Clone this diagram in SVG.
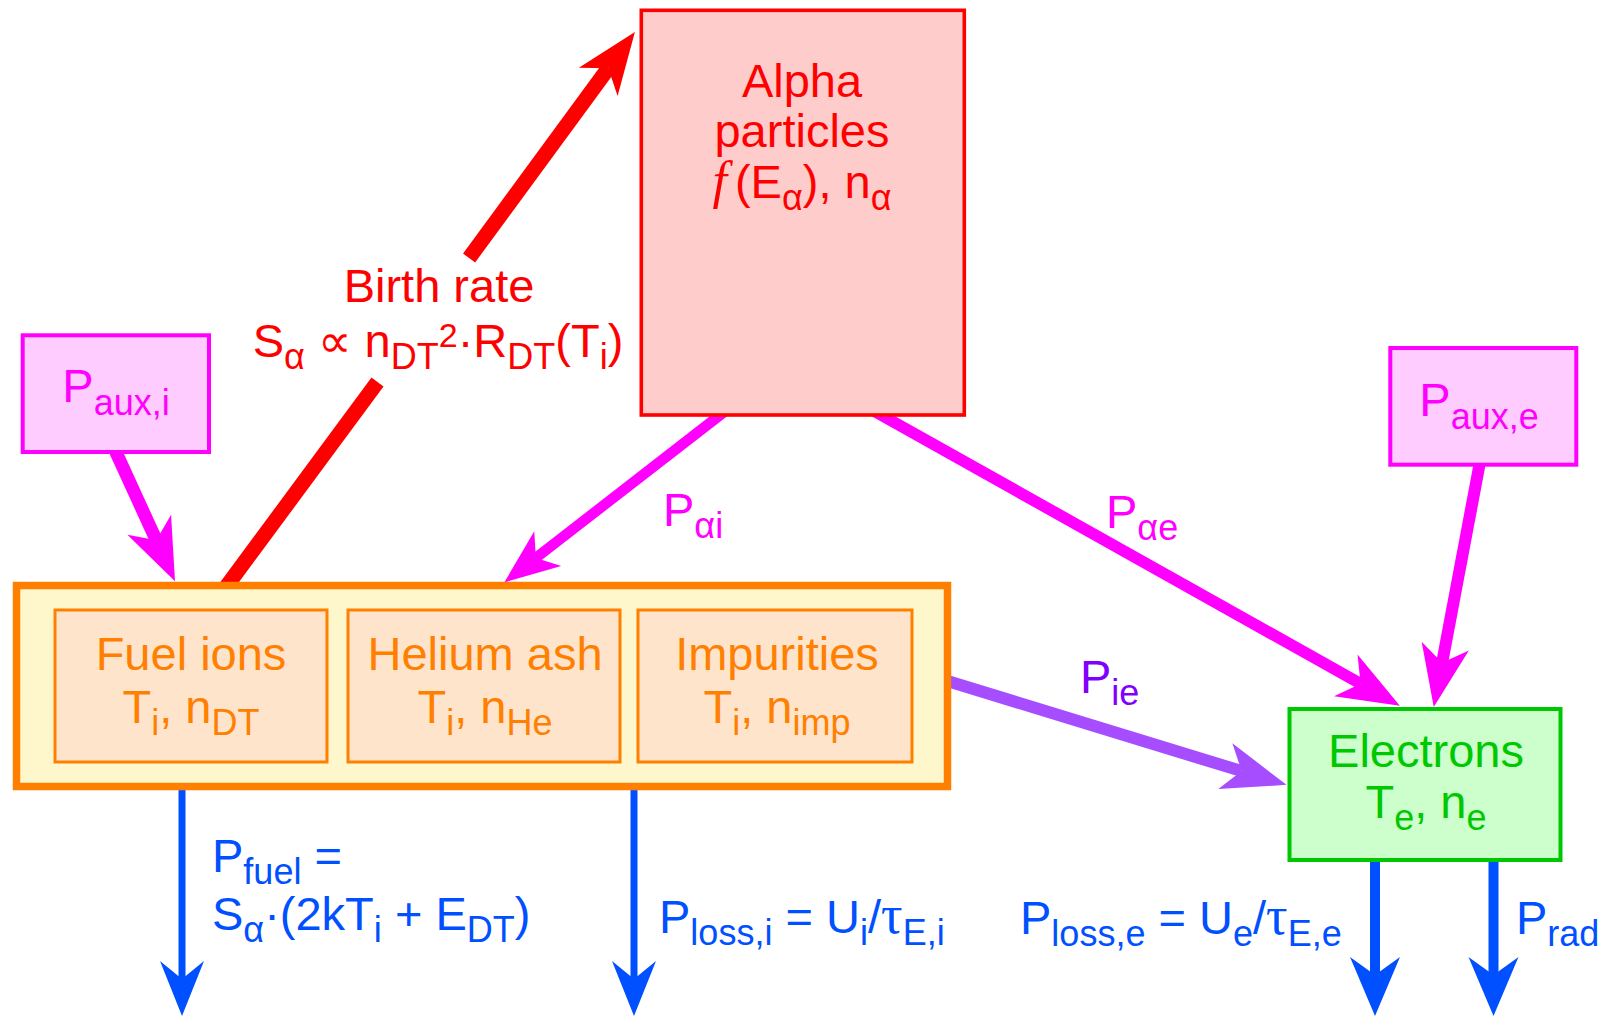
<svg xmlns="http://www.w3.org/2000/svg" width="1608" height="1018" viewBox="0 0 1608 1018">
<style>
.t{font-family:"Liberation Sans",Arial,"DejaVu Sans",sans-serif;font-size:47px}
.s{font-size:36px}
.sp{font-size:34px}
.tau{font-family:"Liberation Serif","Times New Roman",serif;font-size:54px}
.m{text-anchor:middle}
.red{fill:#FF0000}.mag{fill:#FF00FF}.org{fill:#FF8000}.grn{fill:#00C800}.blu{fill:#0050FF}.pur{fill:#8000FF}
.ln{fill:none;stroke-linecap:butt}
</style>
<defs>
<marker id="hRed" markerUnits="userSpaceOnUse" orient="auto" markerWidth="70" markerHeight="60" viewBox="0 -30 70 60" refX="17" refY="0" overflow="visible"><path d="M0,-24 L62,0 L0,24 L17,0 Z" fill="#FF0000"/></marker>
<marker id="hMag" markerUnits="userSpaceOnUse" orient="auto" markerWidth="70" markerHeight="60" viewBox="0 -30 70 60" refX="17" refY="0" overflow="visible"><path d="M0,-24 L62,0 L0,24 L17,0 Z" fill="#FF00FF"/></marker>
<marker id="hMagS" markerUnits="userSpaceOnUse" orient="auto" markerWidth="70" markerHeight="60" viewBox="0 -30 70 60" refX="15" refY="0" overflow="visible"><path d="M0,-22 L55,0 L0,22 L15,0 Z" fill="#FF00FF"/></marker>
<marker id="hPur" markerUnits="userSpaceOnUse" orient="auto" markerWidth="70" markerHeight="60" viewBox="0 -30 70 60" refX="17" refY="0" overflow="visible"><path d="M0,-24 L64,0 L0,24 L17,0 Z" fill="#A64DFF"/></marker>
<marker id="hBluS" markerUnits="userSpaceOnUse" orient="auto" markerWidth="70" markerHeight="60" viewBox="0 -30 70 60" refX="18" refY="0" overflow="visible"><path d="M0,-22 L55,0 L0,22 L18,0 Z" fill="#0050FF"/></marker>
<marker id="hBluL" markerUnits="userSpaceOnUse" orient="auto" markerWidth="70" markerHeight="60" viewBox="0 -30 70 60" refX="18" refY="0" overflow="visible"><path d="M0,-25 L59,0 L0,25 L18,0 Z" fill="#0050FF"/></marker>
</defs>
<rect width="1608" height="1018" fill="#FFFFFF"/>
<g id="connectors">
<path class="ln" d="M223.8,590 L377.5,382" stroke="#FF0000" stroke-width="15"/>
<path class="ln" d="M469.1,258 L608.3,68.2" stroke="#FF0000" stroke-width="15" marker-end="url(#hRed)"/>
<path class="ln" d="M115,450 L156.3,540.3" stroke="#FF00FF" stroke-width="13" marker-end="url(#hMag)"/>
<path class="ln" d="M1480,462 L1442.1,662.8" stroke="#FF00FF" stroke-width="12" marker-end="url(#hMag)"/>
<path class="ln" d="M724,412 L535.9,557.9" stroke="#FF00FF" stroke-width="10.5" marker-end="url(#hMagS)"/>
<path class="ln" d="M874,411 L1360.6,683.7" stroke="#FF00FF" stroke-width="11.5" marker-end="url(#hMag)"/>
<path class="ln" d="M945,680.3 L1241.6,771.1" stroke="#A64DFF" stroke-width="12" marker-end="url(#hPur)"/>
<path class="ln" d="M182,786 L182,979" stroke="#0050FF" stroke-width="7" marker-end="url(#hBluS)"/>
<path class="ln" d="M634,786 L634,979" stroke="#0050FF" stroke-width="7" marker-end="url(#hBluS)"/>
<path class="ln" d="M1375,858 L1375,975" stroke="#0050FF" stroke-width="10" marker-end="url(#hBluL)"/>
<path class="ln" d="M1493.5,858 L1493.5,975" stroke="#0050FF" stroke-width="10" marker-end="url(#hBluL)"/>
</g>
<g id="alpha">
<rect x="641.3" y="10.3" width="323" height="404.7" fill="#FFCCCC" stroke="#FF0000" stroke-width="3.6"/>
<text class="t m red" x="802" y="97">Alpha</text>
<text class="t m red" x="802" y="147">particles</text>
<text class="t m red" x="802" y="198"><tspan font-family="Liberation Serif" font-style="italic" font-size="52">f</tspan><tspan dx="8">(E</tspan><tspan class="s" dy="12">α</tspan><tspan dy="-12">), n</tspan><tspan class="s" dy="12">α</tspan></text>
</g>
<g id="paux-i">
<rect x="22.7" y="335.3" width="186.3" height="116.7" fill="#FFCCFF" stroke="#FF00FF" stroke-width="4"/>
<text class="t m mag" x="116" y="402">P<tspan class="s" dy="13">aux,i</tspan></text>
</g>
<g id="paux-e">
<rect x="1390.3" y="348" width="186" height="116.7" fill="#FFCCFF" stroke="#FF00FF" stroke-width="4"/>
<text class="t m mag" x="1479" y="416">P<tspan class="s" dy="13">aux,e</tspan></text>
</g>
<g id="ions">
<rect x="16.5" y="585.5" width="931" height="201" fill="#FFF7CC" stroke="#FF8000" stroke-width="7.5"/>
</g>
<g id="fuel-ions">
<rect x="55" y="610" width="272" height="152" fill="#FFE4CC" stroke="#FF8000" stroke-width="3"/>
<text class="t m org" x="191" y="670">Fuel ions</text>
<text class="t m org" x="191" y="723">T<tspan class="s" dy="12">i</tspan><tspan dy="-12">, n</tspan><tspan class="s" dy="12">DT</tspan></text>
</g>
<g id="helium-ash">
<rect x="348" y="610" width="272" height="152" fill="#FFE4CC" stroke="#FF8000" stroke-width="3"/>
<text class="t m org" x="485" y="670">Helium ash</text>
<text class="t m org" x="485" y="723">T<tspan class="s" dy="12">i</tspan><tspan dy="-12">, n</tspan><tspan class="s" dy="12">He</tspan></text>
</g>
<g id="impurities">
<rect x="638" y="610" width="274" height="152" fill="#FFE4CC" stroke="#FF8000" stroke-width="3"/>
<text class="t m org" x="777" y="670">Impurities</text>
<text class="t m org" x="777" y="723">T<tspan class="s" dy="12">i</tspan><tspan dy="-12">, n</tspan><tspan class="s" dy="12">imp</tspan></text>
</g>
<g id="electrons">
<rect x="1289.5" y="709" width="271" height="151" fill="#CCFFCC" stroke="#00C800" stroke-width="4"/>
<text class="t m grn" x="1426" y="767">Electrons</text>
<text class="t m grn" x="1426" y="818">T<tspan class="s" dy="12">e</tspan><tspan dy="-12">, n</tspan><tspan class="s" dy="12">e</tspan></text>
</g>
<g id="labels">
<text class="t m red" x="439" y="302">Birth rate</text>
<text class="t m red" x="438" y="357">S<tspan class="s" dy="12">α</tspan><tspan dy="-12"> ∝ n</tspan><tspan class="s" dy="12">DT</tspan><tspan class="sp" dy="-22">2</tspan><tspan dy="10">·R</tspan><tspan class="s" dy="12">DT</tspan><tspan dy="-12">(T</tspan><tspan class="s" dy="12">i</tspan><tspan dy="-12">)</tspan></text>
<text class="t mag" x="663" y="526">P<tspan class="s" dy="12">αi</tspan></text>
<text class="t mag" x="1106" y="528">P<tspan class="s" dy="12">αe</tspan></text>
<text class="t pur" x="1080" y="693">P<tspan class="s" dy="12">ie</tspan></text>
<text class="t blu" x="212" y="872">P<tspan class="s" dy="12">fuel</tspan><tspan dy="-12"> =</tspan></text>
<text class="t blu" x="212" y="930">S<tspan class="s" dy="12">α</tspan><tspan dy="-12">·(2kT</tspan><tspan class="s" dy="12">i</tspan><tspan dy="-12"> + E</tspan><tspan class="s" dy="12">DT</tspan><tspan dy="-12">)</tspan></text>
<text class="t blu" x="659" y="933">P<tspan class="s" dy="12">loss,i</tspan><tspan dy="-12"> = U</tspan><tspan class="s" dy="12">i</tspan><tspan dy="-12">/</tspan><tspan class="tau">τ</tspan><tspan class="s" dy="12">E,i</tspan></text>
<text class="t blu" x="1020" y="934">P<tspan class="s" dy="12">loss,e</tspan><tspan dy="-12"> = U</tspan><tspan class="s" dy="12">e</tspan><tspan dy="-12">/</tspan><tspan class="tau">τ</tspan><tspan class="s" dy="12">E,e</tspan></text>
<text class="t blu" x="1516" y="934">P<tspan class="s" dy="12">rad</tspan></text>
</g>
</svg>
